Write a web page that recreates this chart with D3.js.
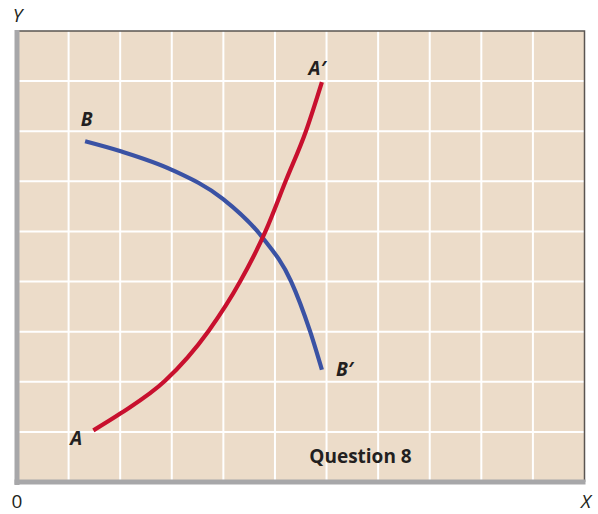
<!DOCTYPE html>
<html><head><meta charset="utf-8">
<script src="https://cdn.jsdelivr.net/npm/d3@7"></script>
<style>html,body{margin:0;padding:0;background:#fff;}svg{display:block;}</style>
</head><body>
<svg id="c" width="598" height="514"></svg>
<script>
// Data (in grid units)
const xTicks = d3.range(0, 12);   // vertical grid lines 0..11
const yTicks = d3.range(0, 10);   // horizontal grid lines 0..9
const curveAx = [1.48, 2.01, 2.87, 3.71, 4.33, 4.82, 5.21, 5.60, 5.91];
const curveAy = [1.03, 1.37, 2.02, 3.01, 4.01, 5.01, 6.01, 7.00, 7.98];
const curveBx = [1.32, 2.01, 3.00, 3.99, 4.75, 5.31, 5.68, 5.91];
const curveBy = [6.80, 6.60, 6.23, 5.65, 4.89, 4.01, 3.01, 2.24];
const labels = [
  {t: "A", x: 1.15, y: 0.73},
  {t: "A\u2032", x: 5.82, y: 8.12},
  {t: "B", x: 1.35, y: 7.1},
  {t: "B\u2032", x: 6.35, y: 2.12}
];

const svg = d3.select("#c");
const x = d3.scaleLinear().domain([0, 11]).range([17, 584.5]);
const y = d3.scaleLinear().domain([0, 9]).range([482, 31]);

// background
svg.append("rect").attr("x", x(0)).attr("y", y(9)).attr("width", x(11) - x(0)).attr("height", y(0) - y(9)).attr("fill", "#ecdcc9");

// grid
svg.append("g").selectAll("line").data(xTicks.slice(1, -1)).join("line")
  .attr("x1", d => x(d)).attr("x2", d => x(d)).attr("y1", y(9)).attr("y2", y(0))
  .attr("stroke", "#fff").attr("stroke-width", 2);
svg.append("g").selectAll("line").data(yTicks.slice(1, -1)).join("line")
  .attr("y1", d => y(d)).attr("y2", d => y(d)).attr("x1", x(0)).attr("x2", x(11))
  .attr("stroke", "#fff").attr("stroke-width", 2);

// top/right border
svg.append("path").attr("d", `M${x(0)},${y(9)}H${x(11)}V${y(0)}`).attr("fill", "none").attr("stroke", "#5a5552").attr("stroke-width", 1.5);
// axes
svg.append("line").attr("x1", x(0)).attr("x2", x(0)).attr("y1", y(9) - 1).attr("y2", y(0) + 3).attr("stroke", "#a7a7a9").attr("stroke-width", 5);
svg.append("line").attr("x1", x(0) - 2.5).attr("x2", x(11) + 1).attr("y1", y(0)).attr("y2", y(0)).attr("stroke", "#a7a7a9").attr("stroke-width", 5);

const line = d3.line().x(d => x(d[0])).y(d => y(d[1])).curve(d3.curveMonotoneX);
svg.append("path").datum(curveBx.map((v, i) => [v, curveBy[i]])).attr("d", line)
  .attr("fill", "none").attr("stroke", "#3a52a4").attr("stroke-width", 4.2);
svg.append("path").datum(curveAx.map((v, i) => [v, curveAy[i]])).attr("d", line)
  .attr("fill", "none").attr("stroke", "#c8102e").attr("stroke-width", 4.2);

const font = "'Open Sans', Lato, sans-serif";
svg.append("g").selectAll("text").data(labels).join("text")
  .attr("x", d => x(d.x)).attr("y", d => y(d.y)).attr("text-anchor", "middle")
  .attr("font-family", font).attr("font-weight", "bold").attr("font-style", "italic")
  .attr("font-size", 19).attr("fill", "#231f20").text(d => d.t);

svg.append("text").attr("x", 360.5).attr("y", 463).attr("text-anchor", "middle")
  .attr("font-family", font).attr("font-weight", "bold").attr("font-size", 19)
  .attr("fill", "#231f20").text("Question 8");

svg.append("text").attr("x", 17.5).attr("y", 22).attr("text-anchor", "middle")
  .attr("font-family", font).attr("font-style", "italic").attr("font-size", 19).attr("fill", "#231f20").text("Y");
svg.append("text").attr("x", 586).attr("y", 508).attr("text-anchor", "middle")
  .attr("font-family", font).attr("font-style", "italic").attr("font-size", 19).attr("fill", "#231f20").text("X");
svg.append("text").attr("x", 17).attr("y", 508).attr("text-anchor", "middle")
  .attr("font-family", font).attr("font-size", 19).attr("fill", "#231f20").text("0");
</script>
</body></html>
